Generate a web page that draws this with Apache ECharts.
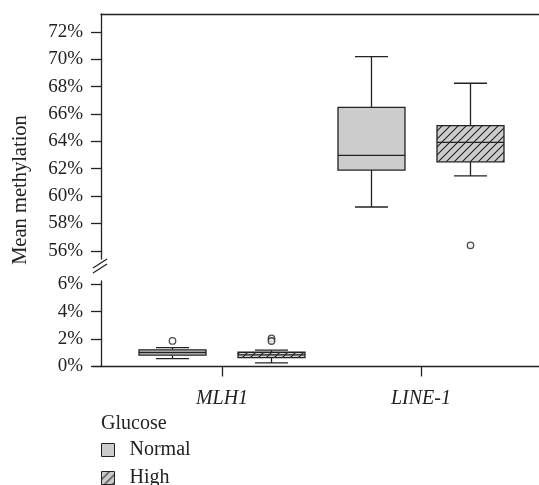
<!DOCTYPE html>
<html>
<head>
<meta charset="utf-8">
<script src="https://cdn.jsdelivr.net/npm/echarts@6/dist/echarts.min.js"></script>
<style>
  html, body { margin: 0; padding: 0; background: #fff; }
  #chart { width: 539px; height: 485px; }
</style>
</head>
<body>
<div id="chart"></div>
<script>
// categories on x, 1-based positions on the value axis
var categories = ["MLH1", "LINE-1"];
// which panel each category sits in: 0 = upper (56-72%), 1 = lower (0-6%)
var panelOf = [1, 0];
var groups = ["Normal", "High"];

// [min, Q1, median, Q3, max] in %
var normalStats = [
  [0.58, 0.83, 1.02, 1.22, 1.38],
  [59.2, 61.9, 62.97, 66.48, 70.19]
];
var highStats = [
  [0.26, 0.65, 0.85, 1.04, 1.19],
  [61.47, 62.5, 63.92, 65.14, 68.24]
];
// [category index, value]
var normalOutliers = [[0, 1.87]];
var highOutliers = [[0, 2.05], [0, 1.86], [1, 56.4]];

var upperTicks = [56, 58, 60, 62, 64, 66, 68, 70, 72];
var lowerTicks = [0, 2, 4, 6];

var FONT = "'Liberation Serif', 'DejaVu Serif', serif";
var INK = "#222";
var GRAY = "#cccccc";
var BOX_W = 67, CAP_W = 33, OFFSET = 49.5;

// diagonal hatch used for the "High" group
function hatchPattern() {
  var c = document.createElement("canvas");
  c.width = 8; c.height = 8;
  var g = c.getContext("2d");
  g.fillStyle = GRAY;
  g.fillRect(0, 0, 8, 8);
  g.strokeStyle = INK;
  g.lineWidth = 1.1;
  g.beginPath();
  g.moveTo(0, 8); g.lineTo(8, 0);
  g.moveTo(-1, 1); g.lineTo(1, -1);
  g.moveTo(7, 9); g.lineTo(9, 7);
  g.stroke();
  return { image: c, repeat: "repeat" };
}
var HATCH = hatchPattern();

function boxRenderer(offset, fill) {
  return function (params, api) {
    var x = api.value(0);
    var cx = api.coord([x, api.value(3)])[0] + offset;
    var y = function (i) { return api.coord([x, api.value(i)])[1]; };
    var yMin = y(1), yQ1 = y(2), yMed = y(3), yQ3 = y(4), yMax = y(5);
    var hw = BOX_W / 2, cw = CAP_W / 2;
    var ln = { stroke: INK, lineWidth: 1.3 };
    return {
      type: "group",
      children: [
        { type: "line", shape: { x1: cx, y1: yMax, x2: cx, y2: yQ3 }, style: ln },
        { type: "line", shape: { x1: cx, y1: yQ1, x2: cx, y2: yMin }, style: ln },
        { type: "line", shape: { x1: cx - cw, y1: yMax, x2: cx + cw, y2: yMax }, style: ln },
        { type: "line", shape: { x1: cx - cw, y1: yMin, x2: cx + cw, y2: yMin }, style: ln },
        { type: "rect", shape: { x: cx - hw, y: yQ3, width: BOX_W, height: yQ1 - yQ3 },
          style: { fill: fill, stroke: INK, lineWidth: 1.3 } },
        { type: "line", shape: { x1: cx - hw, y1: yMed, x2: cx + hw, y2: yMed }, style: ln }
      ]
    };
  };
}

function statsFor(stats, panel) {
  var out = [];
  stats.forEach(function (s, i) {
    if (panelOf[i] === panel) out.push([i + 1].concat(s));
  });
  return out;
}
function outliersFor(list, panel) {
  return list.filter(function (o) { return panelOf[o[0]] === panel; })
    .map(function (o) { return [o[0] + 1, o[1]]; });
}

var series = [];
[0, 1].forEach(function (p) {
  // panel 0 uses axis index 0, panel 1 uses axis index 1
  series.push({
    name: "Normal", type: "custom", xAxisIndex: p, yAxisIndex: p,
    renderItem: boxRenderer(-OFFSET, GRAY),
    encode: { x: 0, y: [1, 2, 3, 4, 5] },
    itemStyle: { color: GRAY },
    data: statsFor(normalStats, p), silent: true
  });
  series.push({
    name: "High", type: "custom", xAxisIndex: p, yAxisIndex: p,
    renderItem: boxRenderer(OFFSET, HATCH),
    encode: { x: 0, y: [1, 2, 3, 4, 5] },
    itemStyle: { color: HATCH },
    data: statsFor(highStats, p), silent: true
  });
  series.push({
    name: "Normal", type: "scatter", xAxisIndex: p, yAxisIndex: p,
    symbol: "circle", symbolSize: 6.5, symbolOffset: [-OFFSET, 0],
    itemStyle: { color: "#fff", borderColor: INK, borderWidth: 1.3 },
    data: outliersFor(normalOutliers, p), silent: true
  });
  series.push({
    name: "High", type: "scatter", xAxisIndex: p, yAxisIndex: p,
    symbol: "circle", symbolSize: 6.5, symbolOffset: [OFFSET, 0],
    itemStyle: { color: "#eee", borderColor: INK, borderWidth: 1.3 },
    data: outliersFor(highOutliers, p), silent: true
  });
});

var axisLineStyle = { lineStyle: { color: INK, width: 1.3 } };
var tickStyle = { color: INK, width: 1.3 };
var labelStyle = { color: INK, fontFamily: FONT, fontSize: 19 };

var option = {
  animation: false,
  backgroundColor: "#fff",
  title: {
    text: "Glucose", left: 101, top: 414, padding: 0,
    textStyle: { color: INK, fontFamily: FONT, fontSize: 20, fontWeight: "normal" }
  },
  legend: {
    orient: "vertical", left: 101, top: 440, height: 80, padding: 0,
    itemWidth: 13, itemHeight: 13, itemGap: 8,
    selectedMode: false,
    textStyle: { color: INK, fontFamily: FONT, fontSize: 20, padding: [0, 0, 0, 10] },
    data: [
      { name: "Normal", icon: "rect", itemStyle: { color: GRAY, borderColor: INK, borderWidth: 1 } },
      { name: "High", icon: "rect", itemStyle: { color: HATCH, borderColor: INK, borderWidth: 1 } }
    ]
  },
  grid: [
    { left: 101, right: 0, top: 14, height: 245, outerBoundsMode: "none" },
    { left: 101, right: 0, top: 281, height: 85.5, outerBoundsMode: "none" }
  ],
  xAxis: [
    {
      // top frame line of the upper panel
      type: "value", gridIndex: 0, position: "top", min: 0.392, max: 2.593,
      axisLine: axisLineStyle, axisTick: { show: false }, axisLabel: { show: false },
      splitLine: { show: false }
    },
    {
      type: "value", gridIndex: 1, position: "bottom", min: 0.392, max: 2.593,
      axisLine: axisLineStyle,
      axisTick: { show: true, length: 10, lineStyle: tickStyle, customValues: [1, 2] },
      axisLabel: Object.assign({}, labelStyle, {
        fontSize: 20, fontStyle: "italic", margin: 22, customValues: [1, 2],
        formatter: function (v) { return categories[Math.round(v) - 1]; }
      }),
      splitLine: { show: false }
    }
  ],
  yAxis: [
    {
      type: "value", gridIndex: 0, min: 55.4, max: 73.3,
      axisLine: { show: true, lineStyle: tickStyle },
      axisTick: { show: true, length: 10, lineStyle: tickStyle, customValues: upperTicks },
      axisLabel: Object.assign({}, labelStyle, { margin: 18, customValues: upperTicks, formatter: "{value}%" }),
      splitLine: { show: false }
    },
    {
      type: "value", gridIndex: 1, min: 0, max: 6.24,
      axisLine: { show: true, lineStyle: tickStyle },
      axisTick: { show: true, length: 10, lineStyle: tickStyle, customValues: lowerTicks },
      axisLabel: Object.assign({}, labelStyle, { margin: 18, customValues: lowerTicks, formatter: "{value}%" }),
      splitLine: { show: false }
    }
  ],
  graphic: [
    {
      type: "text", x: 21, y: 190, rotation: Math.PI / 2,
      style: { text: "Mean methylation", fill: INK, font: "20.5px " + FONT, align: "center", verticalAlign: "middle" }
    },
    // bottom axis line runs a little past the y axis
    { type: "line", shape: { x1: 93, y1: 366.5, x2: 101, y2: 366.5 }, style: { stroke: INK, lineWidth: 1.3 } },
    // axis break marks
    { type: "line", shape: { x1: 93, y1: 268, x2: 107, y2: 259 }, style: { stroke: INK, lineWidth: 1.3 } },
    { type: "line", shape: { x1: 93, y1: 273, x2: 107, y2: 264 }, style: { stroke: INK, lineWidth: 1.3 } }
  ],
  series: series
};

var myChart = echarts.init(document.getElementById("chart"));
myChart.setOption(option);
</script>
</body>
</html>
